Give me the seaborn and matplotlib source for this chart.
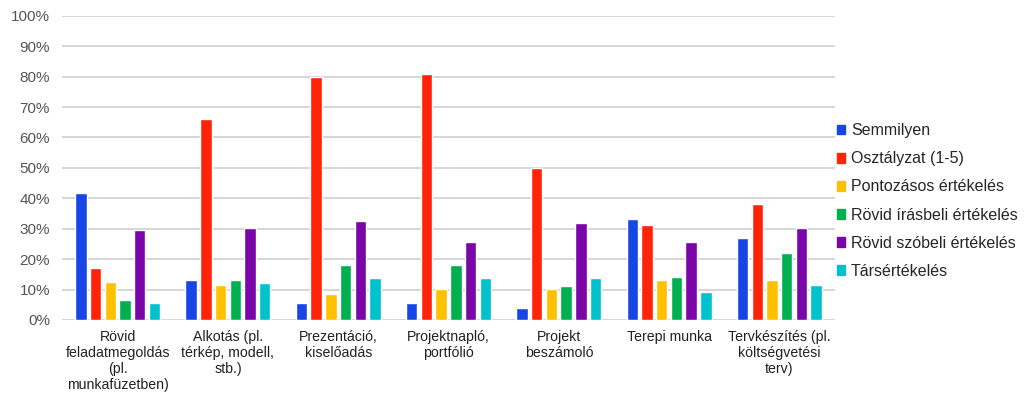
import pandas as pd
import matplotlib.pyplot as plt
import seaborn as sns
from matplotlib.ticker import PercentFormatter
from matplotlib.patches import Patch

categories = [
    "Rövid\nfeladatmegoldás\n(pl.\nmunkafüzetben)",
    "Alkotás (pl.\ntérkép, modell,\nstb.)",
    "Prezentáció,\nkiselőadás",
    "Projektnapló,\nportfólió",
    "Projekt\nbeszámoló",
    "Terepi munka",
    "Tervkészítés (pl.\nköltségvetési\nterv)",
]
series = [
    "Semmilyen",
    "Osztályzat (1-5)",
    "Pontozásos értékelés",
    "Rövid írásbeli értékelés",
    "Rövid szóbeli értékelés",
    "Társértékelés",
]
semmilyen = [41.7, 13.2, 5.5, 5.5, 4.0, 33.1, 27.1]
osztalyzat = [17.0, 66.0, 79.8, 81.0, 50.0, 31.2, 38.0]
pontozasos = [12.6, 11.5, 8.7, 10.2, 10.1, 13.2, 13.2]
irasbeli = [6.6, 13.2, 18.1, 18.1, 11.1, 14.2, 22.1]
szobeli = [29.6, 30.2, 32.5, 25.8, 32.0, 25.8, 30.2]
tarsertekeles = [5.5, 12.1, 13.7, 13.7, 13.9, 9.2, 11.5]
colors = ["#1846e6", "#ff230a", "#ffc000", "#00b04f", "#7a05a8", "#00c2cc"]

values = [semmilyen, osztalyzat, pontozasos, irasbeli, szobeli, tarsertekeles]
rows = []
for name, vals in zip(series, values):
    for cat, v in zip(categories, vals):
        rows.append({"category": cat, "series": name, "value": v})
df = pd.DataFrame(rows)

sns.set_theme(style="white")
plt.rcParams["font.family"] = ["Liberation Sans", "DejaVu Sans"]

fig = plt.figure(figsize=(10.24, 3.96), dpi=100)
ax = fig.add_axes([0.061, 0.192, 0.754, 0.768])

sns.barplot(data=df, x="category", y="value", hue="series", hue_order=series,
            order=categories, palette=colors, width=0.8, gap=0.22,
            saturation=1, legend=False, ax=ax, zorder=3)

ax.set_ylim(0, 100)
ax.set_yticks(range(0, 101, 10))
ax.yaxis.set_major_formatter(PercentFormatter(decimals=0))
ax.set_xlim(-0.5, len(categories) - 0.5)
ax.grid(axis="y", color="#d6d6d6", linewidth=1.4, zorder=0)
for s in ax.spines.values():
    s.set_visible(False)
ax.tick_params(axis="both", length=0)
ax.tick_params(axis="y", labelsize=11, labelcolor="#555555", pad=9)
ax.tick_params(axis="x", labelsize=10.2, labelcolor="#222222", pad=7)
ax.set_xlabel("")
ax.set_ylabel("")

handles = [Patch(facecolor=c, edgecolor=c) for c in colors]
fig.legend(handles, series, loc="upper left", bbox_to_anchor=(0.803, 0.725),
           frameon=False, fontsize=11.5, handlelength=0.55, handleheight=0.55,
           handletextpad=0.35, labelspacing=0.82)

fig.savefig("out.png", dpi=100)
